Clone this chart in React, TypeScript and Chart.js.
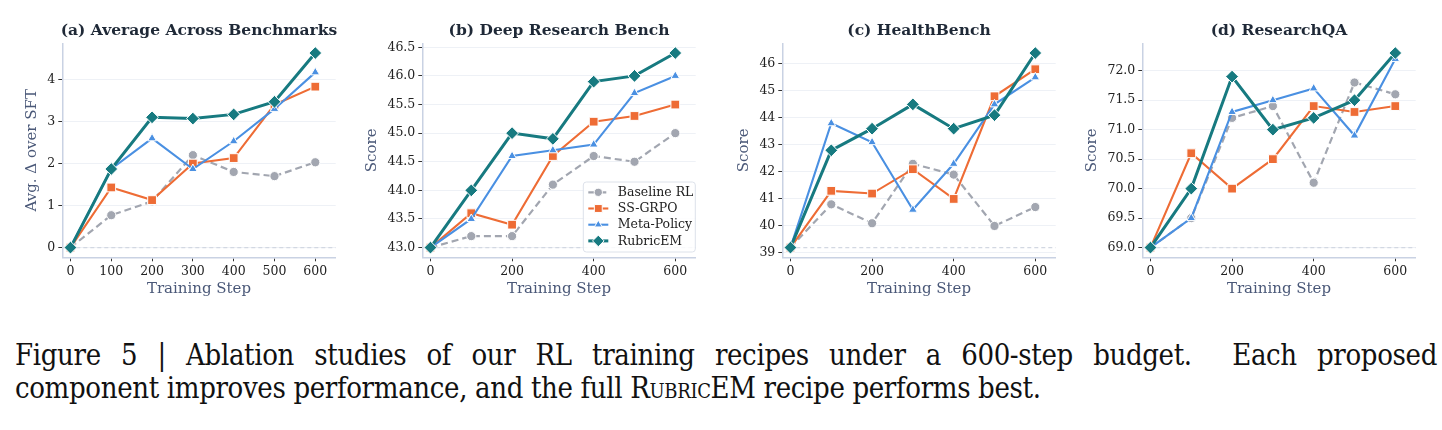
import React, { useEffect, useRef } from 'react';
import { Chart, registerables } from 'chart.js';

Chart.register(...registerables);

// ---- data -------------------------------------------------------------
const steps = [0, 100, 200, 300, 400, 500, 600];
const seriesNames = ['Baseline RL', 'SS-GRPO', 'Meta-Policy', 'RubricEM'];

// (a) average improvement over the SFT starting point
const avgBaseline = [0, 0.77, 1.1, 2.2, 1.8, 1.7, 2.03];
const avgSsGrpo = [0, 1.43, 1.13, 2.0, 2.13, 3.4, 3.83];
const avgMetaPolicy = [0, 1.87, 2.6, 1.87, 2.53, 3.3, 4.17];
const avgRubricEM = [0, 1.87, 3.1, 3.07, 3.17, 3.47, 4.63];

// (b) Deep Research Bench
const drbBaseline = [43.0, 43.2, 43.2, 44.1, 44.6, 44.5, 45.0];
const drbSsGrpo = [43.0, 43.6, 43.4, 44.6, 45.2, 45.3, 45.5];
const drbMetaPolicy = [43.0, 43.5, 44.6, 44.7, 44.8, 45.7, 46.0];
const drbRubricEM = [43.0, 44.0, 45.0, 44.9, 45.9, 46.0, 46.4];

// (c) HealthBench
const hbBaseline = [39.2, 40.8, 40.1, 42.3, 41.9, 40.0, 40.7];
const hbSsGrpo = [39.2, 41.3, 41.2, 42.1, 41.0, 44.8, 45.8];
const hbMetaPolicy = [39.2, 43.8, 43.1, 40.6, 42.3, 44.5, 45.5];
const hbRubricEM = [39.2, 42.8, 43.6, 44.5, 43.6, 44.1, 46.4];

// (d) ResearchQA
const rqaBaseline = [69.0, 69.5, 71.2, 71.4, 70.1, 71.8, 71.6];
const rqaSsGrpo = [69.0, 70.6, 70.0, 70.5, 71.4, 71.3, 71.4];
const rqaMetaPolicy = [69.0, 69.5, 71.3, 71.5, 71.7, 70.9, 72.2];
const rqaRubricEM = [69.0, 70.0, 71.9, 71.0, 71.2, 71.5, 72.3];

// tick values
const avgTicks = [0, 1, 2, 3, 4];
const drbTicks = [43.0, 43.5, 44.0, 44.5, 45.0, 45.5, 46.0, 46.5];
const hbTicks = [39, 40, 41, 42, 43, 44, 45, 46];
const rqaTicks = [69.0, 69.5, 70.0, 70.5, 71.0, 71.5, 72.0];
const stepTicksFine = [0, 100, 200, 300, 400, 500, 600];
const stepTicksCoarse = [0, 200, 400, 600];

// ---- styling ----------------------------------------------------------
const SERIF = '"DejaVu Serif", serif';
const CAPTION_FONT = '"DejaVu Serif Condensed", "DejaVu Serif", serif';
const seriesStyle = [
  { color: '#a2a6b0', point: 'circle', radius: 4.6, width: 2.2, dash: [7, 4], order: 3 },
  { color: '#ee6c35', point: 'rect', radius: 6.2, width: 2.1, dash: [] as number[], order: 2 },
  { color: '#4a90e2', point: 'triangle', radius: 5.0, width: 2.1, dash: [] as number[], order: 1 },
  { color: '#177a80', point: 'rectRot', radius: 6.4, width: 3.0, dash: [] as number[], order: 0 },
];

type PanelCfg = {
  title: string;
  yLabel: string;
  series: number[][];
  yTicks: number[];
  xTicks: number[];
  decimals: number;
  legend: boolean;
};

const panels: PanelCfg[] = [
  {
    title: '(a) Average Across Benchmarks',
    yLabel: 'Avg. \u0394 over SFT',
    series: [avgBaseline, avgSsGrpo, avgMetaPolicy, avgRubricEM],
    yTicks: avgTicks,
    xTicks: stepTicksFine,
    decimals: 0,
    legend: false,
  },
  {
    title: '(b) Deep Research Bench',
    yLabel: 'Score',
    series: [drbBaseline, drbSsGrpo, drbMetaPolicy, drbRubricEM],
    yTicks: drbTicks,
    xTicks: stepTicksCoarse,
    decimals: 1,
    legend: true,
  },
  {
    title: '(c) HealthBench',
    yLabel: 'Score',
    series: [hbBaseline, hbSsGrpo, hbMetaPolicy, hbRubricEM],
    yTicks: hbTicks,
    xTicks: stepTicksCoarse,
    decimals: 0,
    legend: false,
  },
  {
    title: '(d) ResearchQA',
    yLabel: 'Score',
    series: [rqaBaseline, rqaSsGrpo, rqaMetaPolicy, rqaRubricEM],
    yTicks: rqaTicks,
    xTicks: stepTicksCoarse,
    decimals: 1,
    legend: false,
  },
];

const TICK_FONT = { family: SERIF, size: 12.5 };
const TICK_LEN = 4;
const TICK_PAD = 3;
const LABEL_SIZE = 15;

function drawMarker(ctx: CanvasRenderingContext2D, style: string, x: number, y: number, r: number) {
  ctx.beginPath();
  if (style === 'circle') {
    ctx.arc(x, y, r, 0, Math.PI * 2);
  } else if (style === 'rect') {
    const s = Math.SQRT1_2 * r;
    ctx.rect(x - s, y - s, 2 * s, 2 * s);
  } else if (style === 'triangle') {
    for (let k = 0; k < 3; k++) {
      const a = (k * 2 * Math.PI) / 3;
      const px = x + Math.sin(a) * r;
      const py = y - Math.cos(a) * r;
      if (k === 0) ctx.moveTo(px, py);
      else ctx.lineTo(px, py);
    }
    ctx.closePath();
  } else {
    ctx.moveTo(x, y - r);
    ctx.lineTo(x + r, y);
    ctx.lineTo(x, y + r);
    ctx.lineTo(x - r, y);
    ctx.closePath();
  }
  ctx.fill();
  ctx.stroke();
}

// Titles, axis labels, the dashed SFT reference line and the legend box.
const panelDecor = {
  id: 'panelDecor',
  beforeDatasetsDraw(chart: any, _args: any, opts: any) {
    const { ctx, chartArea } = chart;
    const y = chart.scales.y.getPixelForValue(opts.reference);
    ctx.save();
    ctx.strokeStyle = '#d2d8e2';
    ctx.lineWidth = 1.2;
    ctx.setLineDash([4, 3]);
    ctx.beginPath();
    ctx.moveTo(chartArea.left, y);
    ctx.lineTo(chartArea.right, y);
    ctx.stroke();
    ctx.restore();
  },
  afterDraw(chart: any, _args: any, opts: any) {
    const { ctx, chartArea } = chart;
    const cx = (chartArea.left + chartArea.right) / 2;
    ctx.save();
    // panel title
    ctx.fillStyle = '#1f2937';
    ctx.font = `bold 15.5px ${SERIF}`;
    ctx.textAlign = 'center';
    ctx.textBaseline = 'middle';
    ctx.fillText(opts.title, cx, 30.5);

    // x axis label
    ctx.fillStyle = '#4a5878';
    ctx.font = `${LABEL_SIZE}px ${SERIF}`;
    ctx.fillText('Training Step', cx, 289);

    // y axis label, placed left of the widest tick label
    ctx.font = `${TICK_FONT.size}px ${SERIF}`;
    let maxW = 0;
    for (const t of chart.scales.y.ticks) {
      const w = ctx.measureText(String(t.label)).width;
      if (w > maxW) maxW = w;
    }
    const labelX = chartArea.left - TICK_LEN - TICK_PAD - maxW - 15;
    ctx.font = `${LABEL_SIZE}px ${SERIF}`;
    ctx.translate(labelX, (chartArea.top + chartArea.bottom) / 2);
    ctx.rotate(-Math.PI / 2);
    ctx.fillText(opts.yLabel, 0, 0);
    ctx.restore();

    if (opts.legend) {
      const lx = 223.3;
      const ly = 182;
      const lw = 112;
      const lh = 70;
      ctx.save();
      ctx.fillStyle = 'rgba(255,255,255,0.85)';
      ctx.strokeStyle = '#dde2ea';
      ctx.lineWidth = 1;
      ctx.beginPath();
      (ctx as any).roundRect(lx, ly, lw, lh, 3);
      ctx.fill();
      ctx.stroke();
      seriesNames.forEach((name, i) => {
        const st = seriesStyle[i];
        const ry = ly + 10.3 + i * 16.2;
        ctx.strokeStyle = st.color;
        ctx.lineWidth = st.width;
        ctx.setLineDash(st.dash);
        ctx.beginPath();
        ctx.moveTo(lx + 5, ry);
        ctx.lineTo(lx + 25, ry);
        ctx.stroke();
        ctx.setLineDash([]);
        ctx.fillStyle = st.color;
        ctx.strokeStyle = '#ffffff';
        ctx.lineWidth = 1;
        drawMarker(ctx, st.point, lx + 15, ry, st.radius * 0.9);
        ctx.fillStyle = '#222222';
        ctx.font = `12.5px ${SERIF}`;
        ctx.textAlign = 'left';
        ctx.textBaseline = 'middle';
        ctx.fillText(name, lx + 34.5, ry + 0.5);
      });
      ctx.restore();
    }
  },
};

function Panel({ cfg, left }: { cfg: PanelCfg; left: number }) {
  const ref = useRef<HTMLCanvasElement>(null);

  useEffect(() => {
    const all = cfg.series.flat();
    const lo = Math.min(...all);
    const hi = Math.max(...all);
    const margin = (hi - lo) * 0.05;

    const chart = new Chart(ref.current as HTMLCanvasElement, {
      type: 'line',
      data: {
        datasets: cfg.series.map((vals, i) => {
          const st = seriesStyle[i];
          return {
            label: seriesNames[i],
            data: vals.map((v, k) => ({ x: steps[k], y: v })),
            borderColor: st.color,
            backgroundColor: st.color,
            borderWidth: st.width,
            borderDash: st.dash,
            pointStyle: st.point as any,
            pointRadius: st.radius,
            pointBackgroundColor: st.color,
            pointBorderColor: '#ffffff',
            pointBorderWidth: 1,
            tension: 0,
            order: st.order,
            fill: false,
          };
        }),
      },
      options: {
        animation: false,
        responsive: false,
        events: [],
        layout: { padding: { top: 43.3, right: 24.3, left: 0, bottom: 0 } },
        plugins: {
          legend: { display: false },
          tooltip: { enabled: false },
          title: { display: false },
          panelDecor: {
            title: cfg.title,
            yLabel: cfg.yLabel,
            reference: cfg.series[0][0],
            legend: cfg.legend,
          },
        } as any,
        scales: {
          x: {
            type: 'linear',
            min: -20,
            max: 650,
            afterBuildTicks: (s: any) => {
              s.ticks = cfg.xTicks.map((v) => ({ value: v }));
            },
            afterFit: (s: any) => {
              s.height = 52.7;
            },
            grid: {
              drawOnChartArea: false,
              drawTicks: true,
              tickLength: TICK_LEN,
              tickColor: '#333333',
              tickWidth: 1,
            },
            border: { display: true, color: '#c9d2e3', width: 1.5 },
            ticks: {
              font: TICK_FONT,
              color: '#222222',
              padding: TICK_PAD,
              maxRotation: 0,
              autoSkip: false,
              callback: (v: any) => String(v),
            },
          },
          y: {
            type: 'linear',
            min: lo - margin,
            max: hi + margin,
            afterBuildTicks: (s: any) => {
              s.ticks = cfg.yTicks.map((v) => ({ value: v }));
            },
            afterFit: (s: any) => {
              s.width = 62.3;
            },
            grid: {
              color: '#eef1f6',
              lineWidth: 1,
              drawTicks: true,
              tickLength: TICK_LEN,
              tickColor: '#333333',
              tickWidth: 1,
            },
            border: { display: true, color: '#c9d2e3', width: 1.5 },
            ticks: {
              font: TICK_FONT,
              color: '#222222',
              padding: TICK_PAD,
              autoSkip: false,
              callback: (v: any) => Number(v).toFixed(cfg.decimals),
            },
          },
        },
      },
      plugins: [panelDecor as any],
    });
    return () => chart.destroy();
  }, [cfg]);

  return (
    <canvas
      ref={ref}
      width={360}
      height={310}
      style={{ position: 'absolute', left, top: 0, width: 360, height: 310 }}
    />
  );
}

export default function App() {
  return (
    <div
      style={{
        position: 'absolute',
        left: 0,
        top: 0,
        width: 1442,
        height: 430,
        background: '#ffffff',
        overflow: 'hidden',
      }}
    >
      {panels.map((p, i) => (
        <Panel key={i} cfg={p} left={i * 360} />
      ))}
      <div
        style={{
          position: 'absolute',
          left: 15,
          top: 339,
          width: 1422,
          fontFamily: CAPTION_FONT,
          fontSize: 29,
          letterSpacing: '-0.35px',
          lineHeight: '32.5px',
          color: '#111111',
        }}
      >
        <div style={{ textAlign: 'justify', textAlignLast: 'justify', whiteSpace: 'nowrap' }}>
          Figure 5 | Ablation studies of our RL training recipes under a 600-step budget.&nbsp; Each proposed
        </div>
        <div>
          component improves performance, and the full{' '}
          <span style={{ fontVariant: 'small-caps' }}>RubricEM</span> recipe performs best.
        </div>
      </div>
    </div>
  );
}
